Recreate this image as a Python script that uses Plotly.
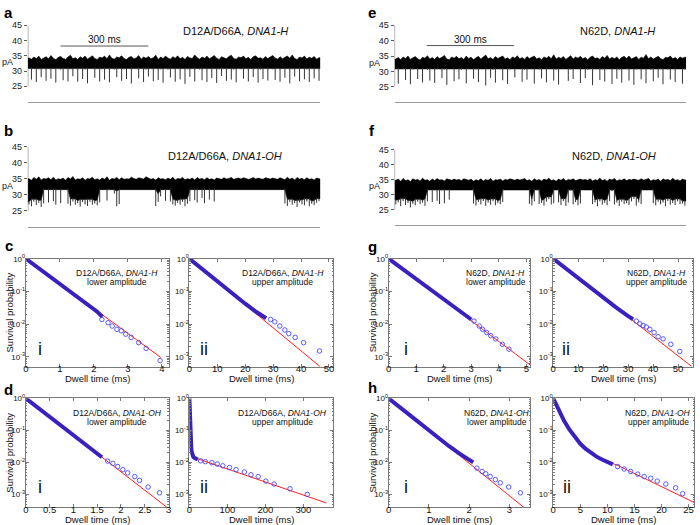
import plotly.graph_objects as go

W, H = 700, 525
def fx(px): return px / W
def fy(py): return 1 - py / H

# ---------------- current traces (pA), one hi/lo pair per ~8.3 ms column ----------------
TRACE_MS = 1000
a_hi = [34.3, 33.9, 34.6, 34.1, 34.9, 33.8, 34.4, 34.7, 34.0, 35.1,
        34.2, 33.7, 34.5, 34.8, 34.1, 33.9, 34.6, 35.2, 34.0, 34.4,
        33.8, 34.7, 34.2, 34.9, 33.9, 34.5, 35.0, 34.1, 33.8, 34.6,
        34.3, 34.9, 34.0, 35.3, 34.2, 33.9, 34.6, 34.4, 35.0, 34.1,
        33.8, 34.5, 34.8, 34.0, 34.3, 35.1, 33.9, 34.6, 34.2, 34.8,
        34.0, 34.4, 35.2, 33.8, 34.6, 34.1, 34.9, 34.3, 33.9, 34.7,
        34.2, 35.0, 34.0, 34.5, 33.8, 34.8, 34.3, 34.1, 35.3, 34.4,
        33.9, 34.6, 34.2, 34.9, 34.0, 34.5, 35.1, 34.2, 33.8, 34.7,
        34.3, 34.0, 34.8, 35.2, 34.1, 33.9, 34.6, 34.4, 34.9, 34.0,
        34.5, 33.8, 34.7, 35.0, 34.2, 34.4, 33.9, 34.8, 34.1, 34.6,
        35.1, 34.3, 33.9, 34.7, 34.0, 34.5, 34.9, 34.2, 35.3, 34.1,
        33.8, 34.6, 34.3, 34.9, 34.0, 34.5, 34.2, 34.8, 33.9, 34.4]
a_lo = [30.8, 27.2, 31.0, 26.4, 30.6, 28.0, 31.0, 26.8, 30.7, 27.5,
        31.0, 26.2, 30.8, 30.5, 27.0, 31.0, 26.6, 30.6, 28.3, 31.0,
        26.5, 30.8, 27.4, 30.5, 26.0, 31.0, 30.7, 27.8, 31.0, 26.6,
        30.6, 27.2, 31.0, 26.3, 30.8, 30.5, 28.0, 31.0, 26.8, 30.6,
        27.4, 31.0, 25.9, 30.7, 30.8, 27.6, 31.0, 26.4, 30.5, 28.2,
        31.0, 26.7, 30.8, 27.1, 30.6, 26.2, 31.0, 30.5, 27.9, 31.0,
        26.5, 30.7, 27.3, 31.0, 25.8, 30.6, 28.1, 31.0, 26.6, 30.8,
        30.5, 27.0, 31.0, 26.4, 30.7, 27.7, 31.0, 26.1, 30.6, 28.4,
        31.0, 26.8, 30.8, 27.2, 30.5, 26.3, 31.0, 30.6, 27.5, 31.0,
        26.6, 30.7, 28.0, 31.0, 26.2, 30.5, 27.4, 31.0, 26.9, 30.8,
        30.6, 27.1, 31.0, 26.5, 30.7, 27.8, 31.0, 26.0, 30.6, 28.2,
        31.0, 26.7, 30.8, 27.3, 30.5, 26.4, 31.0, 27.6, 30.7, 26.8]

b_hi = [35.0, 34.5, 35.4, 34.8, 35.6, 34.6, 35.1, 34.9, 35.3, 34.7,
        35.5, 34.6, 35.0, 34.8, 35.2, 34.5, 35.4, 34.9, 35.7, 34.6,
        35.0, 34.8, 35.3, 34.5, 35.1, 34.9, 35.5, 34.7, 35.0, 34.6,
        35.2, 34.8, 35.6, 34.5, 35.1, 34.9, 35.4, 34.7, 35.3, 34.8,
        35.0, 34.9, 35.5, 35.1, 34.8, 35.3, 35.0, 34.9, 35.6, 35.2,
        34.8, 35.1, 34.6, 35.3, 34.9, 35.0, 34.7, 35.2, 34.8, 35.5,
        34.6, 35.1, 34.9, 35.4, 34.7, 35.0, 34.8, 35.2, 34.6, 35.4,
        34.9, 35.1, 34.7, 35.3, 34.8, 35.0, 34.6, 35.2, 35.0, 34.8,
        35.3, 34.9, 35.1, 35.4, 34.8, 35.0, 35.2, 34.9, 35.3, 35.1,
        34.8, 35.0, 35.4, 34.9, 35.2, 35.0, 34.8, 35.3, 35.1, 34.9,
        35.2, 35.0, 34.8, 35.3, 35.1, 34.7, 35.5, 34.8, 35.2, 34.6,
        35.4, 34.9, 35.1, 34.7, 35.3, 34.8, 35.0, 34.6, 35.2, 34.9]
b_lo = [27.0, 26.4, 27.8, 26.8, 27.5, 26.2, 27.3,
        31.8, 27.6, 31.5, 28.0, 26.9, 31.7, 27.4,
        31.8, 31.6,
        27.2, 26.6, 27.9, 26.9, 27.4, 26.3, 27.7, 27.0, 26.5, 27.8, 26.9, 27.3, 26.7, 27.6,
        31.6, 31.8, 28.2, 31.5, 31.9, 30.4,
        26.4, 27.1,
        31.9, 31.6, 32.0, 31.7, 31.8, 32.1, 31.6, 31.9, 31.7, 32.0, 31.8, 31.6, 31.9, 31.7,
        26.5, 27.8, 29.5,
        31.6, 28.1, 31.8, 27.9,
        27.0, 26.6, 27.5, 26.9, 27.8, 26.4, 27.2, 28.0,
        31.5, 28.3, 27.6, 31.7, 29.0, 27.4, 31.6, 28.5, 31.8, 27.9, 31.6,
        32.0, 31.8, 32.2, 31.9, 32.1, 31.7, 32.0, 32.3, 31.9, 32.1, 31.8, 32.0, 32.2, 31.9,
        31.7, 32.1, 32.0, 31.8, 32.2, 31.9, 32.0, 31.7, 32.1, 31.9, 32.0, 31.8, 32.1,
        27.3, 26.5, 27.8, 26.9, 27.4, 26.2, 27.6, 27.0, 26.7, 27.9, 26.4, 27.2, 26.8, 27.5, 28.0]

e_hi = [34.0, 34.5, 33.8, 34.7, 34.2, 35.0, 33.9, 34.4, 34.8, 34.1,
        33.7, 34.6, 34.3, 35.1, 34.0, 34.5, 33.9, 34.8, 34.2, 34.6,
        35.2, 34.0, 33.8, 34.7, 34.3, 34.9, 34.1, 34.5, 33.9, 35.0,
        34.2, 34.6, 33.8, 34.4, 34.9, 34.0, 34.7, 35.3, 34.1, 34.5,
        33.9, 34.8, 34.2, 34.6, 35.0, 34.0, 34.4, 33.8, 34.7, 34.3,
        35.1, 34.1, 34.5, 33.9, 34.8, 34.2, 34.6, 35.0, 34.0, 34.4,
        33.8, 34.7, 34.3, 34.9, 34.1, 35.4, 34.0, 34.6, 34.2, 34.8,
        33.9, 34.5, 35.1, 34.0, 34.7, 34.3, 34.9, 34.1, 34.5, 33.8,
        34.6, 35.0, 34.2, 34.4, 33.9, 34.8, 34.3, 35.2, 34.0, 34.6,
        34.1, 34.7, 33.8, 34.5, 34.9, 34.2, 35.0, 34.0, 34.4, 34.8,
        33.9, 34.6, 34.3, 35.5, 34.1, 34.7, 34.0, 34.5, 34.9, 34.2,
        33.8, 34.6, 34.4, 35.0, 34.1, 34.5, 33.9, 34.7, 34.3, 34.6]
e_lo = [30.8, 26.0, 31.0, 30.7, 27.2, 31.0, 25.8, 30.6, 31.0, 27.5,
        30.8, 26.4, 31.0, 30.5, 27.0, 31.0, 26.2, 30.7, 31.0, 27.8,
        30.6, 25.6, 31.0, 30.8, 26.8, 31.0, 27.4, 30.5, 31.0, 26.1,
        30.7, 31.0, 27.6, 30.6, 26.5, 31.0, 30.8, 25.4, 31.0, 27.9,
        30.5, 26.3, 31.0, 30.7, 27.1, 31.0, 25.9, 30.6, 31.0, 28.0,
        30.8, 31.0, 26.6, 30.5, 27.3, 31.0, 30.7, 26.0, 31.0, 30.6,
        27.7, 31.0, 26.4, 30.8, 31.0, 27.0, 30.5, 25.7, 31.0, 30.7,
        31.0, 26.9, 30.6, 27.5, 31.0, 30.8, 26.2, 31.0, 27.8, 30.5,
        31.0, 25.5, 30.7, 31.0, 27.2, 30.6, 26.7, 31.0, 30.8, 25.9,
        31.0, 27.6, 30.5, 26.3, 31.0, 30.7, 27.0, 31.0, 25.6, 30.6,
        31.0, 27.4, 30.8, 26.1, 31.0, 30.5, 26.8, 31.0, 27.9, 30.7,
        25.8, 31.0, 30.6, 27.3, 31.0, 26.5, 30.8, 31.0, 26.0, 30.6]

f_hi = [34.8, 35.2, 34.5, 35.4, 34.7, 35.0, 34.4, 35.3, 34.9, 35.1,
        34.6, 35.5, 34.8, 35.0, 34.5, 35.2, 34.7, 35.4, 34.9, 35.0,
        34.6, 35.3, 35.0, 34.8, 35.2, 34.9, 35.1, 34.7, 35.3, 35.0,
        34.8, 35.2, 34.5, 35.0, 34.7, 35.3, 34.6, 35.1, 34.8, 35.4,
        34.5, 35.0, 34.9, 35.2, 34.6, 35.1, 34.9, 35.3, 35.0, 34.8,
        35.2, 34.9, 35.1, 35.4, 34.7, 35.0, 34.5, 35.3, 34.8, 35.1,
        34.6, 35.2, 34.9, 35.5, 34.7, 35.0, 34.5, 35.2, 34.8, 35.4,
        34.6, 35.1, 34.9, 35.3, 34.7, 35.0, 35.2, 34.9, 35.1, 34.8,
        35.3, 34.6, 35.0, 34.8, 35.5, 34.7, 35.1, 34.5, 35.2, 34.9,
        35.4, 34.6, 35.0, 34.8, 35.3, 34.7, 35.1, 34.9, 35.2, 35.0,
        34.8, 35.3, 34.9, 35.1, 35.4, 34.6, 35.0, 34.8, 35.2, 34.5,
        35.3, 34.9, 35.1, 34.7, 35.5, 34.8, 35.0, 34.6, 35.2, 34.9]
f_lo = [26.8, 27.5, 26.2, 27.9, 26.6, 27.3, 25.8, 27.0, 26.5, 27.7, 26.9, 27.4, 26.3, 27.8,
        31.6, 27.6, 31.8, 28.0, 26.9, 31.5, 27.2, 31.7, 28.4,
        31.8, 31.6, 32.0, 31.7, 31.9, 31.6, 32.1, 31.8, 31.7,
        27.1, 26.4, 27.6, 26.8, 27.9, 26.3, 27.4, 26.7, 27.8, 26.5, 27.2, 26.9, 27.6,
        31.8, 32.0, 31.7, 31.9, 32.1, 31.6, 31.8, 32.0, 31.7, 31.9,
        27.0, 26.5, 27.8, 31.5, 26.9, 27.3, 26.4, 27.7, 28.5, 26.8, 27.2,
        31.6, 27.5, 26.6, 27.9, 26.3, 27.4, 31.4, 26.8, 27.6, 26.5, 27.1,
        31.8, 31.6, 31.9, 31.7,
        26.9, 27.5, 26.2, 27.8, 26.7, 27.3, 26.5, 27.9, 31.2, 26.8, 27.4,
        26.3, 27.7, 26.9, 27.2, 26.6, 27.8, 28.6, 26.4, 27.5, 26.9,
        31.7, 31.9, 31.6, 31.8,
        27.2, 26.5, 27.7, 26.8, 27.4, 26.2, 27.9, 26.7, 27.3, 26.6, 27.8, 26.9, 27.1, 26.4]

pa_ticks = [25, 30, 35, 40, 45]
scale_bar_ms = 300

# ---------------- survival curves: dwell time (ms) vs survival probability ----------------
ci_dense_t = [0, 0.3, 0.6, 0.9, 1.2, 1.5, 1.8, 2.1, 2.25]
ci_dense_p = [1.0, 0.59, 0.35, 0.20, 0.12, 0.071, 0.042, 0.024, 0.0166]
ci_tail_t = [2.24, 2.42, 2.54, 2.68, 2.81, 2.94, 3.10, 3.32, 3.54, 3.95]
ci_tail_p = [1.38e-2, 1.10e-2, 8.7e-3, 6.9e-3, 6.2e-3, 4.9e-3, 3.9e-3, 2.7e-3, 1.8e-3, 7.6e-4]
ci_fit_t = [0, 3.97]
ci_fit_p = [1.0, 9.5e-4]

cii_dense_t = [0, 4, 8, 12, 16, 20, 24, 27.5]
cii_dense_p = [1.0, 0.525, 0.275, 0.145, 0.078, 0.042, 0.0234, 0.0151]
cii_tail_t = [29.1, 30.6, 32.4, 34.2, 35.6, 37.9, 40.9, 46.6]
cii_tail_p = [1.38e-2, 1.17e-2, 8.7e-3, 6.6e-3, 5.1e-3, 3.9e-3, 2.7e-3, 1.5e-3]
cii_fit_t = [0, 46.8]
cii_fit_p = [1.0, 5.0e-4]

di_dense_t = [0, 0.2, 0.4, 0.6, 0.8, 1.0, 1.2, 1.4, 1.6]
di_dense_p = [1.0, 0.59, 0.35, 0.204, 0.12, 0.071, 0.042, 0.0245, 0.0145]
di_tail_t = [1.72, 1.83, 1.93, 2.04, 2.14, 2.29, 2.39, 2.57, 2.81]
di_tail_p = [1.10e-2, 9.3e-3, 7.4e-3, 5.9e-3, 4.7e-3, 3.6e-3, 2.75e-3, 1.7e-3, 1.12e-3]
di_fit_t = [0, 2.96]
di_fit_p = [1.0, 4.0e-4]

dii_dense_t = [0, 0.5, 1, 1.5, 2, 3, 4, 5, 6, 8, 10, 13, 17, 22]
dii_dense_p = [1.0, 0.56, 0.32, 0.2, 0.126, 0.063, 0.038, 0.0275, 0.0219, 0.017, 0.0151, 0.0138, 0.0132, 0.0123]
dii_tail_t = [29.6, 41.8, 59.2, 73.1, 87.9, 105.3, 122.7, 144.5, 161.9, 181, 201, 222.7, 264.5, 309.9]
dii_tail_p = [1.12e-2, 1.05e-2, 9.8e-3, 8.9e-3, 7.8e-3, 6.9e-3, 5.9e-3, 5.0e-3, 4.1e-3, 3.6e-3, 2.6e-3, 2.1e-3, 1.5e-3, 1.0e-3]
dii_fit_t = [0, 1, 2, 3, 4, 6, 8, 10, 14, 20, 360]
dii_fit_p = [1.0, 0.355, 0.151, 0.079, 0.048, 0.025, 0.018, 0.0155, 0.0138, 0.0132, 5.4e-4]

gi_dense_t = [0, 0.4, 0.8, 1.2, 1.6, 2.0, 2.4, 2.8, 3.0]
gi_dense_p = [1.0, 0.56, 0.316, 0.174, 0.098, 0.055, 0.031, 0.0178, 0.0138]
gi_tail_t = [3.10, 3.29, 3.41, 3.56, 3.71, 3.89, 4.13, 4.37]
gi_tail_p = [1.23e-2, 8.7e-3, 6.9e-3, 5.5e-3, 4.4e-3, 3.5e-3, 2.4e-3, 1.7e-3]
gi_fit_t = [0, 5.15]
gi_fit_p = [1.0, 5.5e-4]

gii_dense_t = [0, 5, 10, 15, 20, 25, 30, 32]
gii_dense_p = [1.0, 0.50, 0.257, 0.129, 0.065, 0.033, 0.0174, 0.0141]
gii_tail_t = [33.3, 34.7, 36.0, 37.3, 38.7, 40.4, 42.0, 44.0, 47.1, 50.7]
gii_tail_p = [1.23e-2, 1.02e-2, 9.1e-3, 8.1e-3, 6.9e-3, 5.5e-3, 4.1e-3, 3.5e-3, 2.4e-3, 1.45e-3]
gii_fit_t = [0, 55.5]
gii_fit_p = [1.0, 5.0e-4]

hi_dense_t = [0, 0.25, 0.5, 0.75, 1.0, 1.25, 1.5, 1.75, 2.0, 2.1]
hi_dense_p = [1.0, 0.56, 0.316, 0.178, 0.10, 0.056, 0.032, 0.019, 0.0117, 0.010]
hi_tail_t = [2.19, 2.32, 2.41, 2.52, 2.65, 2.77, 2.98, 3.27]
hi_tail_p = [6.6e-3, 5.2e-3, 4.4e-3, 3.6e-3, 2.9e-3, 2.3e-3, 1.7e-3, 1.12e-3]
hi_fit_t = [0, 3.5]
hi_fit_p = [1.0, 2.8e-4]

hii_dense_t = [0, 1, 2, 3, 4, 5, 6, 7, 8, 9, 10, 11]
hii_dense_p = [1.0, 0.437, 0.2, 0.105, 0.06, 0.038, 0.0263, 0.0195, 0.0151, 0.0123, 0.0102, 0.0087]
hii_tail_t = [11.9, 13.1, 14.3, 15.6, 16.8, 18.0, 19.2, 20.8, 22.6, 23.9]
hii_tail_p = [7.4e-3, 6.2e-3, 5.2e-3, 4.3e-3, 3.6e-3, 3.2e-3, 2.6e-3, 2.1e-3, 1.6e-3, 1.05e-3]
hii_fit_t = [0, 1, 2, 3, 4, 5, 6, 7, 8, 9, 10, 12, 26]
hii_fit_p = [1.0, 0.437, 0.2, 0.105, 0.06, 0.038, 0.0263, 0.0195, 0.0155, 0.0126, 0.0107, 0.0079, 5.6e-4]

surv_tick_vals = [1, 0.1, 0.01, 0.001]
surv_tick_text = ["10<sup>0</sup>", "10<sup>-1</sup>", "10<sup>-2</sup>", "10<sup>-3</sup>"]

# ---------------- figure ----------------
FONT = "Liberation Sans, Arial, Helvetica, sans-serif"
fig = go.Figure()
layout = {}
annotations = []
shapes = []
counter = [0]

def new_axes():
    counter[0] += 1
    n = counter[0]
    return "" if n == 1 else str(n)

def ann(text, x, y, size, **kw):
    d = dict(text=text, x=fx(x), y=fy(y), xref="paper", yref="paper", showarrow=False,
             font=dict(size=size, family=FONT, color=kw.pop("color", "#111")),
             xanchor=kw.pop("xanchor", "center"), yanchor=kw.pop("yanchor", "middle"))
    d.update(kw)
    annotations.append(d)

def current_panel(hi, lo, floor, x0, x1, ytop, ybot, title, tcx, tcy, letter, lx, ly, bar=None):
    s = new_axes()
    xa, ya = "x" + s, "y" + s
    n = len(hi)
    dt = TRACE_MS / n
    xc = [(k + 0.5) * dt for k in range(n)]
    bottom = []
    for k in range(n):
        nb = max(lo[max(k - 1, 0)], lo[k], lo[min(k + 1, n - 1)])
        bottom.append(min(floor, nb + 0.8))
    poly_x = [0] + xc + [TRACE_MS, TRACE_MS] + xc[::-1] + [0]
    poly_y = [hi[0]] + hi + [hi[-1], bottom[-1]] + bottom[::-1] + [bottom[0]]
    fig.add_trace(go.Scatter(x=poly_x, y=poly_y, mode="lines", fill="toself", fillcolor="#000",
                             line=dict(color="#000", width=0.6), xaxis=xa, yaxis=ya, hoverinfo="skip"))
    sx, sy = [], []
    for k in range(n):
        if lo[k] < bottom[k]:
            sx += [xc[k], xc[k], None]
            sy += [bottom[k] + 0.3, lo[k], None]
    fig.add_trace(go.Scatter(x=sx, y=sy, mode="lines", line=dict(color="#333", width=1),
                             xaxis=xa, yaxis=ya, hoverinfo="skip"))
    layout["xaxis" + s] = dict(domain=[fx(x0), fx(x1)], range=[0, TRACE_MS], showline=True,
                               linecolor="#9a9a9a", linewidth=1.2, showticklabels=False, ticks="",
                               showgrid=False, zeroline=False, anchor=ya)
    layout["yaxis" + s] = dict(domain=[fy(ybot), fy(ytop)], range=[20, 45], tickvals=pa_ticks,
                               ticks="outside", ticklen=3, tickcolor="#333", tickwidth=0.8,
                               tickfont=dict(size=9, family=FONT, color="#222"),
                               showgrid=False, zeroline=False, showline=False, anchor=xa)
    shapes.append(dict(type="line", xref=xa, yref=ya, x0=0, x1=0, y0=pa_ticks[0], y1=pa_ticks[-1],
                       line=dict(color="#333", width=0.8)))
    ann("pA", x0 - 20, (ytop + ybot) / 2 - 1, 9, color="#222")
    ann(title, tcx, tcy, 11)
    ann("<b>" + letter + "</b>", lx, ly, 15, color="#000")
    if bar is not None:
        b0, by = bar
        shapes.append(dict(type="line", xref=xa, yref=ya, x0=b0, x1=b0 + scale_bar_ms,
                           y0=by, y1=by, line=dict(color="#555", width=1)))
        annotations.append(dict(text=f"{scale_bar_ms} ms", x=b0 + scale_bar_ms / 2, y=by + 2.1,
                                xref=xa, yref=ya, showarrow=False,
                                font=dict(size=10, family=FONT, color="#111")))

current_panel(a_hi, a_lo, 30.8, 25, 320, 20.5, 97.5, "D12A/D66A, <i>DNA1-H</i>", 235, 26, "a", 6, 8, bar=(112, 38.2))
current_panel(b_hi, b_lo, 31.6, 25, 320, 143, 224, "D12A/D66A, <i>DNA1-OH</i>", 224, 152, "b", 6, 127)
current_panel(e_hi, e_lo, 30.8, 395, 689, 20.5, 98, "N62D, <i>DNA1-H</i>", 620, 26, "e", 372, 8, bar=(110, 38.4))
current_panel(f_hi, f_lo, 31.6, 395, 689, 146, 222, "N62D, <i>DNA1-OH</i>", 616, 152, "f", 372, 127)

minor_vals = [m * 10.0 ** d for d in range(-4, 0) for m in range(2, 10)]

def surv_panel(dt_, dp_, tt_, tp_, ft_, fp_, x0, x1, ytop, ybot, xmax, ymin, dtick,
               line1, line2, tcx, numeral, nx, ny, ylabel=False):
    s = new_axes()
    xa, ya = "x" + s, "y" + s
    fig.add_trace(go.Scatter(x=ft_, y=fp_, mode="lines", line=dict(color="#ff2020", width=1),
                             xaxis=xa, yaxis=ya, hoverinfo="skip"))
    fig.add_trace(go.Scatter(x=dt_, y=dp_, mode="lines", line=dict(color="#3a20c0", width=4),
                             xaxis=xa, yaxis=ya, hoverinfo="skip"))
    fig.add_trace(go.Scatter(x=tt_, y=tp_, mode="markers",
                             marker=dict(symbol="circle-open", size=4.5, color="#4a4aff", line=dict(width=0.9)),
                             xaxis=xa, yaxis=ya, hoverinfo="skip"))
    ax_common = dict(showline=True, linecolor="#7a7a7a", linewidth=1, mirror="ticks", ticks="inside",
                     ticklen=3, tickcolor="#7a7a7a", showgrid=False, zeroline=False)
    layout["xaxis" + s] = dict(domain=[fx(x0), fx(x1)], range=[0, xmax], dtick=dtick, tick0=0,
                               ticklabelstandoff=-7,
                               tickfont=dict(size=9.5, family=FONT, color="#111"), anchor=ya, **ax_common)
    layout["yaxis" + s] = dict(domain=[fy(ybot), fy(ytop)], type="log", range=[ymin, 0.005],
                               tickmode="array", tickvals=surv_tick_vals, ticktext=surv_tick_text,
                               ticklabelstandoff=-2,
                               tickfont=dict(size=8, family=FONT, color="#111"), anchor=xa,
                               minor=dict(tickmode="array", tickvals=minor_vals, ticks="inside",
                                          ticklen=1.5, tickcolor="#7a7a7a"), **ax_common)
    ann(line1, tcx, ytop + 15, 8.5)
    ann(line2, tcx, ytop + 24, 8.5)
    ann(numeral, nx, ny, 18, color="#111")
    ann("Dwell time (ms)", (x0 + x1) / 2, ybot + 12, 9.5)
    if ylabel:
        ann("Survival probability", x0 - 16, (ytop + ybot) / 2, 9.5, textangle=-90)

surv_panel(ci_dense_t, ci_dense_p, ci_tail_t, ci_tail_p, ci_fit_t, ci_fit_p, 23, 167, 256, 365, 4.2, -3.3, 1,
           "D12A/D66A, <i>DNA1-H</i>", "lower amplitude", 115, "i", 37, 347, ylabel=True)
surv_panel(cii_dense_t, cii_dense_p, cii_tail_t, cii_tail_p, cii_fit_t, cii_fit_p, 188, 333, 256, 365, 51.5, -3.3, 10,
           "D12A/D66A, <i>DNA1-H</i>", "upper amplitude", 282, "ii", 203, 347)
surv_panel(di_dense_t, di_dense_p, di_tail_t, di_tail_p, di_fit_t, di_fit_p, 23, 167, 397, 507, 3.0, -3.4, 0.5,
           "D12A/D66A, <i>DNA1-OH</i>", "lower amplitude", 115, "i", 37, 487, ylabel=True)
surv_panel(dii_dense_t, dii_dense_p, dii_tail_t, dii_tail_p, dii_fit_t, dii_fit_p, 188, 333, 397, 507, 378, -3.4, 100,
           "D12A/D66A, <i>DNA1-OH</i>", "upper amplitude", 282, "ii", 203, 487)
surv_panel(gi_dense_t, gi_dense_p, gi_tail_t, gi_tail_p, gi_fit_t, gi_fit_p, 389, 532, 256, 365, 5.15, -3.3, 1,
           "N62D, <i>DNA1-H</i>", "lower amplitude", 497, "i", 406, 347, ylabel=True)
surv_panel(gii_dense_t, gii_dense_p, gii_tail_t, gii_tail_p, gii_fit_t, gii_fit_p, 555, 696, 256, 365, 56, -3.3, 10,
           "N62D, <i>DNA1-H</i>", "upper amplitude", 659, "ii", 568, 347)
surv_panel(hi_dense_t, hi_dense_p, hi_tail_t, hi_tail_p, hi_fit_t, hi_fit_p, 389, 532, 397, 507, 3.52, -3.4, 1,
           "N62D, <i>DNA1-OH</i>", "lower amplitude", 498, "i", 406, 487, ylabel=True)
surv_panel(hii_dense_t, hii_dense_p, hii_tail_t, hii_tail_p, hii_fit_t, hii_fit_p, 555, 697, 397, 507, 26, -3.4, 5,
           "N62D, <i>DNA1-OH</i>", "upper amplitude", 661, "ii", 569, 487)

for letter, lx, ly in [("c", 6, 243), ("d", 6, 388), ("g", 373, 244), ("h", 373, 386)]:
    ann("<b>" + letter + "</b>", lx, ly, 15, color="#000")

layout.update(width=W, height=H, margin=dict(l=0, r=0, t=0, b=0), paper_bgcolor="white",
              plot_bgcolor="white", showlegend=False, font=dict(family=FONT, color="#111"),
              annotations=annotations, shapes=shapes)
fig.update_layout(**layout)
fig.write_html("out.html", config={"displayModeBar": False, "staticPlot": True},
               post_script="document.body.style.margin='0';document.body.style.padding='0';")
